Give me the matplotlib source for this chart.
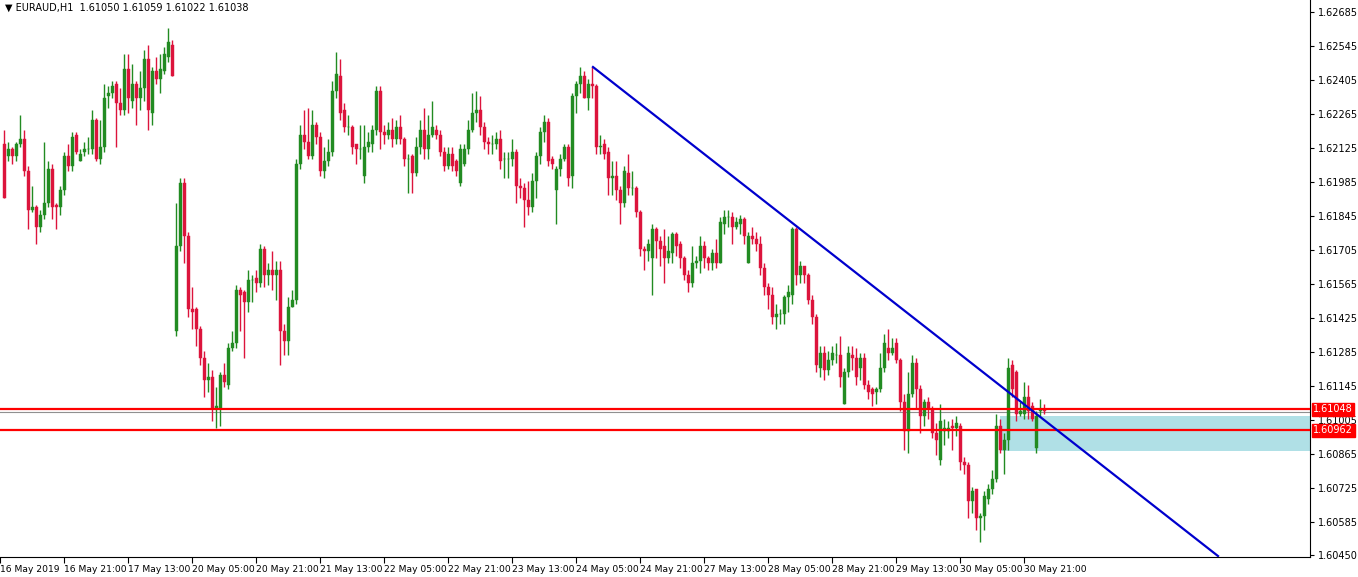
import matplotlib
matplotlib.use("Agg")
import matplotlib.pyplot as plt
from matplotlib.patches import Rectangle
import matplotlib.transforms as mtransforms

# Prices in pips above 1.60000 (1 pip = 0.0001)
opens = [214,209,212,209,214,216,203,187,188,180,185,190,204,189,188,195,209,205,218,207,211,212,212,224,208,213,234,235,239,231,228,245,232,239,233,237,249,227,244,241,244,250,255,
 137,172,198,176,146,146,138,126,117,118,105,105,119,115,130,132,154,153,149,158,159,157,171,160,162,160,162,137,133,147,150,206,218,215,209,222,217,203,207,211,236,242,228,221,
 221,214,212,201,213,214,220,236,219,218,220,216,221,216,208,209,202,213,220,212,218,220,218,211,205,210,207,198,206,212,220,227,228,221,215,214,214,216,208,208,208,211,197,196,191,188,199,209,219,223,208,195,204,208,213,201,234,239,242,233,239,238,
 213,214,211,200,201,195,190,202,196,196,186,171,170,167,179,174,172,167,169,177,173,167,160,157,165,166,172,167,165,169,165,181,184,184,180,181,183,165,176,175,173,163,155,152,143,144,144,151,152,179,160,164,160,150,143,
 122,128,121,125,127,127,107,120,127,126,122,126,115,113,112,113,122,130,128,132,125,108,96,111,124,113,102,108,105,95,84,96,96,98,97,98,83,82,67,72,60,61,68,72,76,98,88,92,123,120,103,103,110,106,89,104,105]
closes = [192,212,209,214,216,203,187,188,180,185,190,204,188,188,195,209,205,217,211,210,212,212,224,208,213,233,235,238,231,228,245,233,239,233,237,249,228,244,241,245,251,256,242,
 172,198,176,146,145,138,126,117,118,105,106,119,116,130,132,154,152,149,158,158,157,171,160,162,160,162,137,133,147,150,206,218,215,209,222,217,203,207,211,236,243,227,221,221,
 213,212,212,213,215,220,236,219,218,220,216,221,216,208,208,202,213,220,212,218,221,218,211,205,210,205,203,212,212,220,227,228,221,215,214,214,216,207,208,208,211,197,196,191,188,199,209,219,223,207,206,204,208,213,200,234,239,242,233,239,238,213,
 213,210,200,201,195,190,203,196,196,186,171,170,173,179,174,171,167,170,177,172,167,160,157,165,166,172,167,165,169,165,182,184,184,180,182,183,176,176,175,173,163,155,152,143,144,144,151,153,179,160,164,160,150,143,123,
 128,121,125,128,127,118,120,128,126,118,126,115,112,111,113,122,132,128,130,125,108,96,111,124,113,102,108,105,95,92,100,97,97,97,99,83,82,67,71,60,61,69,72,76,98,88,92,122,113,103,104,110,104,101,102,105,104]
highs = [220,215,213,215,226,220,205,197,189,187,215,207,206,190,197,211,214,219,219,212,215,217,228,225,224,239,238,240,240,237,251,251,247,240,244,253,255,246,250,251,254,262,257,
 190,200,200,178,155,147,139,129,124,121,114,120,124,132,137,156,155,154,162,160,162,173,172,165,170,166,166,140,151,154,208,222,228,229,228,223,219,213,216,240,252,249,231,226,
 222,214,222,222,219,222,238,238,222,223,225,224,226,217,210,210,217,224,229,226,232,222,220,213,213,213,208,214,214,224,235,236,234,223,217,218,219,220,211,211,216,212,200,198,199,202,211,221,226,225,209,205,210,214,214,235,240,246,244,241,246,239,
 218,216,213,207,207,197,205,210,203,197,187,172,175,181,180,176,179,176,178,178,174,168,162,172,168,176,174,168,171,175,184,187,187,186,184,185,184,178,180,178,176,165,157,155,148,146,152,156,180,180,166,164,161,152,144,
 131,131,129,131,132,135,122,131,131,130,128,128,117,114,114,128,136,138,134,134,126,111,120,127,126,115,109,110,106,99,107,101,100,101,102,99,85,83,73,72,62,71,74,80,103,101,95,126,125,121,108,116,115,108,104,109,107]
lows = [192,207,206,207,213,201,179,186,173,178,183,188,183,179,185,193,203,203,210,207,209,210,210,207,206,211,229,233,213,226,226,227,229,222,228,232,220,222,239,235,243,248,242,
 135,170,165,143,138,131,123,110,112,100,97,98,114,113,129,130,137,126,145,149,153,155,155,156,154,150,123,127,127,147,148,204,212,208,208,214,201,200,205,209,233,224,219,218,
 210,206,208,198,211,211,218,212,214,216,213,214,214,205,194,194,201,210,208,208,217,216,209,203,204,203,201,197,205,210,219,223,218,212,210,210,212,204,200,200,205,190,192,180,185,186,192,206,215,205,204,181,201,207,197,196,227,235,233,228,233,210,
 210,208,193,193,191,181,188,193,193,184,168,162,166,152,167,164,157,165,165,168,163,158,153,155,163,161,163,162,162,163,165,177,180,173,179,177,173,165,173,170,160,152,146,140,138,140,140,145,148,156,157,157,148,140,120,
 118,117,119,123,124,114,107,118,121,115,117,113,109,106,107,112,120,125,127,124,104,88,87,110,105,95,98,101,93,86,82,90,93,88,94,80,78,60,62,55,50,55,66,70,75,87,78,88,110,100,102,101,101,100,87,102,103]

tick_labels = ["16 May 2019","16 May 21:00","17 May 13:00","20 May 05:00","20 May 21:00","21 May 13:00",
               "22 May 05:00","22 May 21:00","23 May 13:00","24 May 05:00","24 May 21:00","27 May 13:00",
               "28 May 05:00","28 May 21:00","29 May 13:00","30 May 05:00","30 May 21:00"]
y_ticks = [1.62685,1.62545,1.62405,1.62265,1.62125,1.61985,1.61845,1.61705,1.61565,1.61425,
           1.61285,1.61145,1.61005,1.60865,1.60725,1.60585,1.60450]
levels = [1.61048, 1.60962]
current_price = 1.61038
zone = (1.60877, 1.61021)
zone_start = 250
trend_x = [148.25, 304.5]
trend_y = [1.62458, 1.60444]

def px(p):
    return 1.6 + p / 10000.0

fig = plt.figure(figsize=(13.58, 5.77), dpi=100)
ax = fig.add_axes([0.0, 20/577, 1310/1358, 557/577])
ax.set_xlim(0, 327.5)
ax.set_ylim(1.60440, 1.62734)

GREEN = "#228B22"
RED = "#DC143C"
for i in range(len(opens)):
    x = i + 1
    o, c, h, l = px(opens[i]), px(closes[i]), px(highs[i]), px(lows[i])
    col = GREEN if closes[i] >= opens[i] else RED
    ax.vlines(x, l, h, color=col, linewidth=1.0, zorder=3)
    bottom = min(o, c)
    height = max(abs(c - o), 0.000012)
    ax.bar(x, height, bottom=bottom, width=0.75, color=col, edgecolor=col, linewidth=0.3, zorder=4)

ax.add_patch(Rectangle((zone_start, zone[0]), 327.5 - zone_start, zone[1] - zone[0],
                       facecolor="#B0E0E6", edgecolor="none", zorder=1))
ax.axhline(current_price, color="#909090", linewidth=0.8, zorder=2)
for lv in levels:
    ax.axhline(lv, color="red", linewidth=1.6, zorder=5)
ax.plot(trend_x, trend_y, color="#0000CD", linewidth=1.6, zorder=6)

ax.yaxis.tick_right()
ax.set_yticks(y_ticks)
ax.set_yticklabels([f"{v:.5f}" for v in y_ticks], fontsize=7)
ax.tick_params(axis="y", length=3, pad=3)
ax.set_xticks([16 * k for k in range(len(tick_labels))])
ax.set_xticklabels(tick_labels, fontsize=6.6, ha="left")
offset = mtransforms.ScaledTranslation(2/100, 0, fig.dpi_scale_trans)
for lab in ax.get_xticklabels():
    lab.set_transform(lab.get_transform() + offset)
ax.tick_params(axis="x", length=4, pad=2)
for s in ["top", "left"]:
    ax.spines[s].set_visible(False)

for lv in levels:
    ax.text(1.0025, lv, f"{lv:.5f}", transform=ax.get_yaxis_transform(), fontsize=7,
            color="white", va="center", ha="left",
            bbox=dict(boxstyle="square,pad=0.15", facecolor="red", edgecolor="red"), zorder=10, clip_on=False)

ax.text(0.004, 0.995, "▼ EURAUD,H1  1.61050 1.61059 1.61022 1.61038", transform=ax.transAxes,
        fontsize=7, va="top", ha="left")

fig.savefig("out.png", dpi=100)
